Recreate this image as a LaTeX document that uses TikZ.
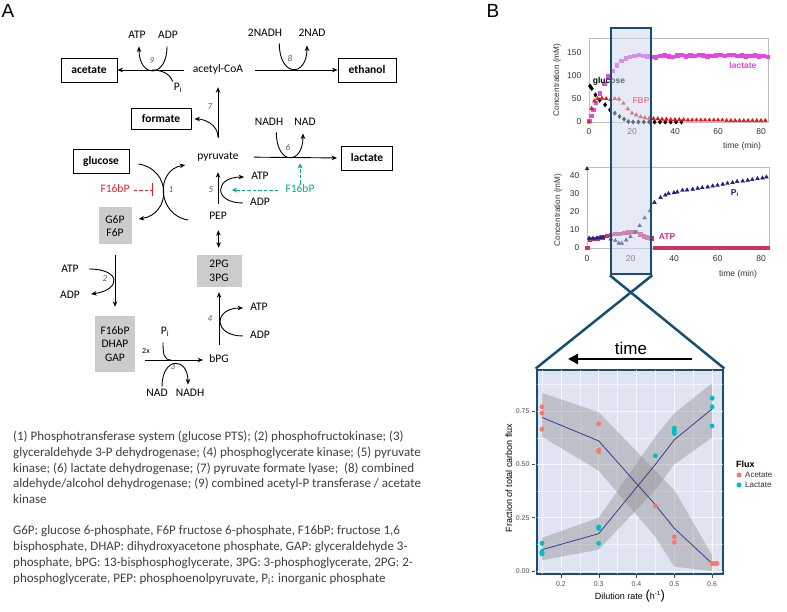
\documentclass[tikz,border=0pt]{standalone}
\usepackage{fontspec}
\setmainfont{Carlito}
\newfontfamily\arialf{Liberation Sans}
\usetikzlibrary{arrows.meta,plotmarks}

\definecolor{poolgray}{RGB}{204,204,204}
\definecolor{inhred}{RGB}{232,32,42}
\definecolor{actgreen}{RGB}{0,178,130}
\definecolor{enzgray}{RGB}{90,90,90}
\definecolor{notegray}{RGB}{64,64,64}
\definecolor{lacmag}{RGB}{228,72,220}
\definecolor{fbpred}{RGB}{235,20,20}
\definecolor{pinavy}{RGB}{28,32,128}
\definecolor{atppink}{RGB}{204,52,104}
\definecolor{zoomblue}{RGB}{24,78,115}
\definecolor{zoomfill}{RGB}{205,214,240}
\definecolor{panelfill}{RGB}{224,228,242}
\definecolor{acecol}{RGB}{248,118,109}
\definecolor{laccol}{RGB}{0,191,196}
\definecolor{fitcol}{RGB}{60,58,140}
\definecolor{axgray}{RGB}{77,77,77}
\definecolor{framegray}{RGB}{190,190,190}

\newcommand\metsize{\fontsize{11.5}{13.5}\selectfont}

\tikzset{
  met/.style={font=\metsize, inner sep=1pt, text height=8pt, text depth=2.5pt},
  endbox/.style={draw, line width=0.9pt, fill=white, font=\metsize\bfseries, minimum height=24pt, inner xsep=6pt},
  pool/.style={fill=poolgray, font=\metsize, align=center, inner sep=1pt},
  rxn/.style={line width=0.9pt, -{Stealth[length=5.5pt,width=4.5pt]}},
  side/.style={line width=0.9pt},
  enz/.style={font=\fontsize{9}{9}\selectfont\itshape, text=enzgray, inner sep=0pt},
  effect/.style={line width=0.9pt, dash pattern=on 3.5pt off 2pt},
  tick/.style={font=\arialf\fontsize{8.5}{9}\selectfont, inner sep=1pt, text=black!80},
  series/.style={font=\arialf\bfseries\fontsize{8.5}{9}\selectfont, inner sep=0pt},
  gtick/.style={font=\arialf\fontsize{7}{7}\selectfont, inner sep=1pt, text=axgray},
  zoomline/.style={zoomblue, line width=2.5pt},
}

\begin{document}
\begin{tikzpicture}[x=1pt, y=-1pt]
\useasboundingbox (0,0) rectangle (787,612);

\node[font=\arialf\fontsize{19}{19}\selectfont, inner sep=0pt] (labA) at (8,11) {A};
\node[font=\arialf\fontsize{19}{19}\selectfont, inner sep=0pt] (labB) at (493,11) {B};

% end products and intermediates
\node[endbox, minimum width=56pt] (acetate) at (89,70) {acetate};
\node[endbox, minimum width=58pt] (ethanol) at (367,70) {ethanol};
\node[endbox, minimum width=60pt, minimum height=21pt] (formate) at (161,119) {formate};
\node[endbox, minimum width=56pt] (glucose) at (101,161) {glucose};
\node[endbox, minimum width=51pt] (lactate) at (367,158) {lactate};
\node[met] (acoa) at (218,70) {acetyl-CoA};
\node[met] (pyr) at (218,157) {pyruvate};
\node[met] (pep) at (218,217) {PEP};
\node[met] (bpg) at (219,360) {bPG};
\node[pool, minimum width=33pt, minimum height=37pt] (g6p) at (115,226) {G6P\\F6P};
\node[pool, minimum width=45pt, minimum height=32pt] (pg) at (219,271) {2PG\\3PG};
\node[pool, minimum width=40pt, minimum height=56pt] (fbp) at (115,344) {F16bP\\DHAP\\GAP};

% cofactors
\node[met] (atp9) at (137,36) {ATP};
\node[met] (adp9) at (168,36) {ADP};
\node[met] (pi9) at (178,88) {P\textsubscript{i}};
\node[met] (nadh8) at (265,34) {2NADH};
\node[met] (nad8) at (312,34) {2NAD};
\node[met] (nadh6) at (269,123) {NADH};
\node[met] (nad6) at (305,123) {NAD};
\node[met] (atp5) at (260,177) {ATP};
\node[met] (adp5) at (260,203) {ADP};
\node[met] (atp2) at (70,270) {ATP};
\node[met] (adp2) at (70,296) {ADP};
\node[met] (atp4) at (259,308) {ATP};
\node[met] (adp4) at (260,336) {ADP};
\node[met] (pi3) at (165,332) {P\textsubscript{i}};
\node[met] (nad3) at (157,394) {NAD};
\node[met] (nadh3) at (190,394) {NADH};
\node[met, text=inhred] (fbpinh) at (115,190) {F16bP};
\node[met, text=actgreen] (fbpact) at (300,190) {F16bP};
\node[font=\fontsize{8}{8}\selectfont, inner sep=0pt] (twox) at (146,351) {2x};

% enzyme numbers
\node[enz] (e1) at (171,190) {1};
\node[enz] (e2) at (105,279) {2};
\node[enz] (e3) at (173,367) {3};
\node[enz] (e4) at (210,319) {4};
\node[enz] (e5) at (211,190) {5};
\node[enz] (e6) at (288,147) {6};
\node[enz] (e7) at (210,107) {7};
\node[enz] (e8) at (290,58) {8};
\node[enz] (e9) at (152,61) {9};

% main reactions
\draw[rxn, shorten <=8pt] (acoa.west) -- (acetate.east);
\draw[rxn, shorten <=11pt] (acoa.east) -- (ethanol.west);
\draw[rxn, shorten <=12.75pt, shorten >=10.75pt] (pyr.north) -- (acoa.south);
\coordinate (b7) at (218,137);
\draw[rxn, shorten >=3pt] (b7) .. controls +(0,-13) and +(12,0) .. (formate.east);
\draw[rxn, shorten <=14pt, shorten >=4pt] (pyr.east) -- (lactate.west);
\draw[rxn, shorten <=6.75pt, shorten >=8.75pt] (pep.north) -- (pyr.south);
\draw[line width=0.9pt, {Stealth[length=5.5pt,width=4.5pt]}-{Stealth[length=5.5pt,width=4.5pt]}, shorten <=6.75pt, shorten >=7pt] (pep.south) -- (pg.north);
\draw[rxn, shorten <=8.75pt, shorten >=5pt] (bpg.north) -- (pg.south);
\coordinate (s3) at (145,360);
\draw[rxn, shorten >=5pt] (s3) -- (bpg.west);
\draw[rxn, shorten <=10pt, shorten >=9pt] (g6p.south) -- (fbp.north);
\draw[rxn] ([shift={(9,3)}]glucose.east) .. controls +(33,5) and +(33,-5) .. ([shift={(7,-7)}]g6p.east);
\draw[rxn] ([shift={(-20,3)}]pep.west) .. controls +(-31,-5) and +(-30,5) .. ([shift={(-11,8)}]pyr.west);

% cofactor loops
\draw[rxn] ([shift={(-1,4)}]adp9.south) .. controls +(0,32) and +(0,32) .. ([shift={(2,4)}]atp9.south);
\coordinate (r9) at (152,70);
\draw[side] (pi9.north west) .. controls +(-3,-8) and +(10,0) .. (r9);
\draw[rxn] ([shift={(-4,3)}]nadh8.south east) .. controls +(0,34) and +(0,32) .. ([shift={(-5,5)}]nad8.south);
\draw[rxn] ([shift={(-8,3)}]nadh6.south east) .. controls +(0,33) and +(0,32) .. ([shift={(-2,4)}]nad6.south);
\draw[rxn] ([shift={(-6,0)}]adp5.west) .. controls +(-30,0) and +(-30,0) .. ([shift={(-6,0)}]atp5.west);
\draw[rxn] ([shift={(-6,0)}]adp4.west) .. controls +(-30,0) and +(-30,0) .. ([shift={(-6,0)}]atp4.west);
\draw[rxn] ([shift={(9,-1)}]atp2.east) .. controls +(33,0) and +(30,-4) .. ([shift={(10,-2)}]adp2.east);
\coordinate (r3) at (171,360);
\draw[side] ([shift={(-2,4)}]pi3.south) .. controls +(0,12) and +(-7,0) .. (r3);
\draw[rxn] ([shift={(5,-1)}]nad3.north) .. controls +(0,-30) and +(0,-28) .. ([shift={(-2,-3)}]nadh3.north);

% F16bP effects
\coordinate (inh1) at (153,190);
\draw[effect, inhred, shorten <=3pt, -{Bar[width=13pt]}] (fbpinh.east) -- (inh1);
\coordinate (act5) at (232,190);
\draw[effect, actgreen, shorten <=6pt, -{Stealth[length=5pt,width=5pt]}] (fbpact.west) -- (act5);
\draw[effect, actgreen, -{Stealth[length=5pt,width=5pt]}] (fbpact.north) -- (fbpact.north |- pyr.south);

% legend text
\node[font=\fontsize{13}{15.7}\selectfont, text=notegray, align=left, inner sep=0pt, anchor=north west] (notes) at (13,431) {%
(1) Phosphotransferase system (glucose PTS); (2) phosphofructokinase; (3)\\
glyceraldehyde 3-P dehydrogenase; (4) phosphoglycerate kinase; (5) pyruvate\\
kinase; (6) lactate dehydrogenase; (7) pyruvate formate lyase;\ \ (8) combined\\
aldehyde/alcohol dehydrogenase; (9) combined acetyl-P transferase / acetate\\
kinase\\[15.7pt]
G6P: glucose 6-phosphate, F6P fructose 6-phosphate, F16bP: fructose 1,6\\
bisphosphate, DHAP: dihydroxyacetone phosphate, GAP: glyceraldehyde 3-\\
phosphate, bPG: 13-bisphosphoglycerate, 3PG: 3-phosphoglycerate, 2PG: 2-\\
phosphoglycerate, PEP: phosphoenolpyruvate, P\textsubscript{i}: inorganic phosphate};

% chart 1: lactate, glucose, FBP
\begin{scope}[shift={(589,122)}, x=2.15pt, y=0.466pt]
  \draw[framegray, line width=0.6pt] (0,0) rectangle (83.3,180);
  \foreach \v in {0,50,100,150} \node[tick, anchor=east] (ca\v) at (-3,\v) {\v};
  \foreach \t in {0,20,40,60,80} \node[tick, anchor=north] (ta\t) at (\t,-12) {\t};
  \draw[lacmag, fill=lacmag] plot[only marks, mark=square*, mark size=1.7pt] coordinates {(0,3) (1,14) (2,27) (3,42) (5,62) (7,82) (9,98) (11,110) (13,122) (15,131) (17,137) (19,140) (21,142) (23,144) (25,142) (27,141) (29,140) (31,139) (33,142) (35,143) (37,141) (39,140) (41,143) (43,144) (45,141) (47,143) (49,142) (51,145) (53,143) (55,141) (57,142) (59,143) (61,144) (63,142) (65,145) (67,144) (69,142) (71,143) (73,141) (75,142) (77,143) (79,141) (81,142) (83,140)};
  \draw[black, fill=black] plot[only marks, mark=diamond*, mark size=2.2pt] coordinates {(0.5,77) (1.3,72) (3,58) (5,47) (7.5,37) (9.8,26) (12,19) (14.2,12) (16.3,6) (18.3,1) (20.5,0) (23,0) (25.5,0) (28,0) (30.5,0) (33,0) (35.5,0) (38,0) (40.5,0) (43,0)};
  \draw[fbpred, fill=fbpred] plot[only marks, mark=triangle*, mark size=2.2pt] coordinates {(0,0) (1.2,29) (2.5,45) (4,50) (6,51) (8,50) (10,48) (12,50) (14,49) (16,40) (18,28) (20,19) (22,15) (24,11) (26,9) (28,8) (30,7) (32,7) (34,6) (36,6) (38,5) (40,5) (42,5) (44,5) (46,4) (48,4) (50,4) (52,4) (54,4) (56,4) (58,4) (60,4) (62,4) (64,3) (66,3) (68,3) (70,3) (72,3) (74,3) (76,3) (78,3) (80,3) (82,3)};
  \node[series, text=lacmag] (llac) at (71.6,122) {lactate};
  \node[series, text=black] (lglc) at (9.3,88) {glucose};
  \node[series, text=fbpred!85] (lfbp) at (24.2,45) {FBP};
\end{scope}
\node[tick, rotate=90, font=\arialf\fontsize{8.2}{9}\selectfont] (cy1) at (557,80) {Concentration (mM)};
\node[tick] (cx1) at (742,146) {time (min)};

% chart 2: Pi and ATP
\begin{scope}[shift={(587,248)}, x=2.175pt, y=1.8pt]
  \draw[framegray, line width=0.6pt] (0,0) rectangle (83.7,45);
  \foreach \v in {0,10,20,30,40} \node[tick, anchor=east] (cb\v) at (-3,\v) {\v};
  \foreach \t in {0,20,40,60,80} \node[tick, anchor=north] (tb\t) at (\t,-3.5) {\t};
  \draw[atppink, fill=atppink] plot[only marks, mark=square*, mark size=1.7pt] coordinates {(0,0) (1.2,4.9) (3,5.2) (5,5.5) (7,6) (9,6.8) (11,7.3) (13,7.8) (15,8.1) (17,8.5) (19,8.8) (21,9) (22.5,8.9) (24.5,7.6) (26,6.6) (27.5,6.1) (29.5,5.5)};
  \draw[atppink, fill=atppink] plot[only marks, mark=square*, mark size=1.7pt, domain=31:83, samples=36] (\x,0);
  \draw[pinavy, fill=pinavy] plot[only marks, mark=triangle*, mark size=2.2pt] coordinates {(0,44) (1,5.4) (2.8,5.4) (4.5,5.5) (6,5.8) (7.4,6) (11,5) (13,4.1) (14.6,2.6) (16,2.6) (18,4.4) (20,6.3) (22.2,8.7) (24.2,12.4) (26.5,16.7) (29,20.7) (31,25.3) (33.8,28) (36,29.4) (37.5,30.2) (40,30.7) (41.5,31.1) (43.9,32) (46,32.2) (48.6,32.6) (50.9,33.1) (53,33.5) (55.5,33.9) (57.8,34.4) (60,34.8) (62.4,35.4) (64.6,35.9) (66.9,36.3) (69,36.9) (71.6,37.2) (73.9,37.6) (76,38) (78.4,38.5) (80.7,38.9) (82.5,39.4)};
  \node[series, text=pinavy!80!blue] (lpi) at (68,30.6) {P\textsubscript{i}};
  \node[series, text=atppink!80!magenta] (latp) at (36.8,6.1) {ATP};
\end{scope}
\node[tick, rotate=90, font=\arialf\fontsize{8.2}{9}\selectfont] (cy2) at (558,210) {Concentration (mM)};
\node[tick] (cx2) at (738,274) {time (min)};

% zoom window
\node[draw=zoomblue, line width=2.5pt, fill=zoomfill, fill opacity=0.5, minimum width=40pt, minimum height=246pt, inner sep=0pt] (hl) at (631,151) {};
\node[draw=zoomblue, line width=2.8pt, fill=panelfill, minimum width=186pt, minimum height=204pt, inner sep=0pt] (fr) at (630,472) {};
\draw[zoomline] (hl.south west) -- (fr.north east);
\draw[zoomline] (hl.south east) -- (fr.north west);

\coordinate (tR) at (692,359);
\coordinate (tL) at (568,359);
\draw[line width=2.5pt, -{Triangle[length=10pt,width=10pt]}] (tR) -- (tL);
\node[font=\arialf\fontsize{17}{17}\selectfont, inner sep=0pt] (timelab) at (631,348) {time};

% flux fractions vs dilution rate
\begin{scope}[shift={(485.3,571)}, x=378pt, y=213.3pt]
  \foreach \d in {0.15,0.25,0.35,0.45,0.55} \draw[white, line width=0.3pt, opacity=0.6] (\d,-0.012) -- (\d,0.94);
  \foreach \v in {0.125,0.375,0.625,0.875} \draw[white, line width=0.3pt, opacity=0.6] (0.138,\v) -- (0.628,\v);
  \foreach \d in {0.2,0.3,0.4,0.5,0.6} \draw[white, line width=0.6pt, opacity=0.8] (\d,-0.012) -- (\d,0.94);
  \foreach \v in {0,0.25,0.5,0.75} \draw[white, line width=0.6pt, opacity=0.8] (0.138,\v) -- (0.628,\v);
  \fill[black!45, fill opacity=0.4] (0.15,0.835) -- (0.3,0.745) -- (0.45,0.47) -- (0.5,0.38) -- (0.6,0.075) -- (0.6,0.0) -- (0.5,0.02) -- (0.45,0.16) -- (0.3,0.47) -- (0.15,0.63) -- cycle;
  \fill[black!45, fill opacity=0.4] (0.15,0.155) -- (0.3,0.25) -- (0.45,0.63) -- (0.5,0.74) -- (0.6,0.88) -- (0.6,0.625) -- (0.5,0.5) -- (0.45,0.38) -- (0.3,0.1) -- (0.15,0.05) -- cycle;
  \draw[fitcol, line width=0.8pt] (0.15,0.72) -- (0.3,0.61) -- (0.45,0.31) -- (0.5,0.2) -- (0.6,0.035);
  \draw[fitcol, line width=0.8pt] (0.15,0.1) -- (0.3,0.175) -- (0.45,0.5) -- (0.5,0.615) -- (0.6,0.76);
  \draw[acecol, fill=acecol] plot[only marks, mark=*, mark size=2.2pt] coordinates {(0.15,0.77) (0.15,0.74) (0.15,0.665) (0.3,0.69) (0.3,0.567) (0.3,0.56) (0.45,0.305) (0.5,0.16) (0.5,0.135) (0.6,0.035) (0.607,0.035) (0.613,0.035)};
  \draw[laccol, fill=laccol] plot[only marks, mark=*, mark size=2.2pt] coordinates {(0.15,0.13) (0.15,0.09) (0.15,0.085) (0.15,0.08) (0.3,0.207) (0.3,0.2) (0.3,0.13) (0.45,0.54) (0.5,0.67) (0.5,0.656) (0.5,0.645) (0.6,0.81) (0.6,0.77) (0.6,0.68)};
  \foreach \v/\n in {0/0.00,0.25/0.25,0.5/0.50,0.75/0.75} {
    \node[gtick, anchor=east] (gy\n) at (0.12,\v) {\n};
    \draw[axgray, line width=0.4pt] (0.1235,\v) -- (0.1315,\v);
  }
  \foreach \d in {0.2,0.3,0.4,0.5,0.6} {
    \node[gtick, anchor=north] (gx\d) at (\d,-0.042) {\d};
    \draw[axgray, line width=0.4pt] (\d,-0.02) -- (\d,-0.033);
  }
\end{scope}
\node[rotate=90, font=\arialf\fontsize{9}{9}\selectfont, inner sep=0pt] (fy) at (509,478) {Fraction of total carbon flux};
\node[font=\arialf\fontsize{9}{9}\selectfont, inner sep=0pt] (fx) at (630,596) {Dilution rate {\fontsize{13}{13}\selectfont(}h\textsuperscript{-1}{\fontsize{13}{13}\selectfont)}};
\node[font=\arialf\bfseries\fontsize{9}{9}\selectfont, inner sep=0pt, anchor=west] (legt) at (736,464) {Flux};
\fill[acecol] (739,475) circle[radius=2.5pt];
\fill[laccol] (739,485) circle[radius=2.5pt];
\node[font=\arialf\fontsize{8}{8}\selectfont, inner sep=0pt, anchor=west, text=black!80] (lega) at (745,475) {Acetate};
\node[font=\arialf\fontsize{8}{8}\selectfont, inner sep=0pt, anchor=west, text=black!80] (legl) at (745,485) {Lactate};
\end{tikzpicture}
\end{document}
